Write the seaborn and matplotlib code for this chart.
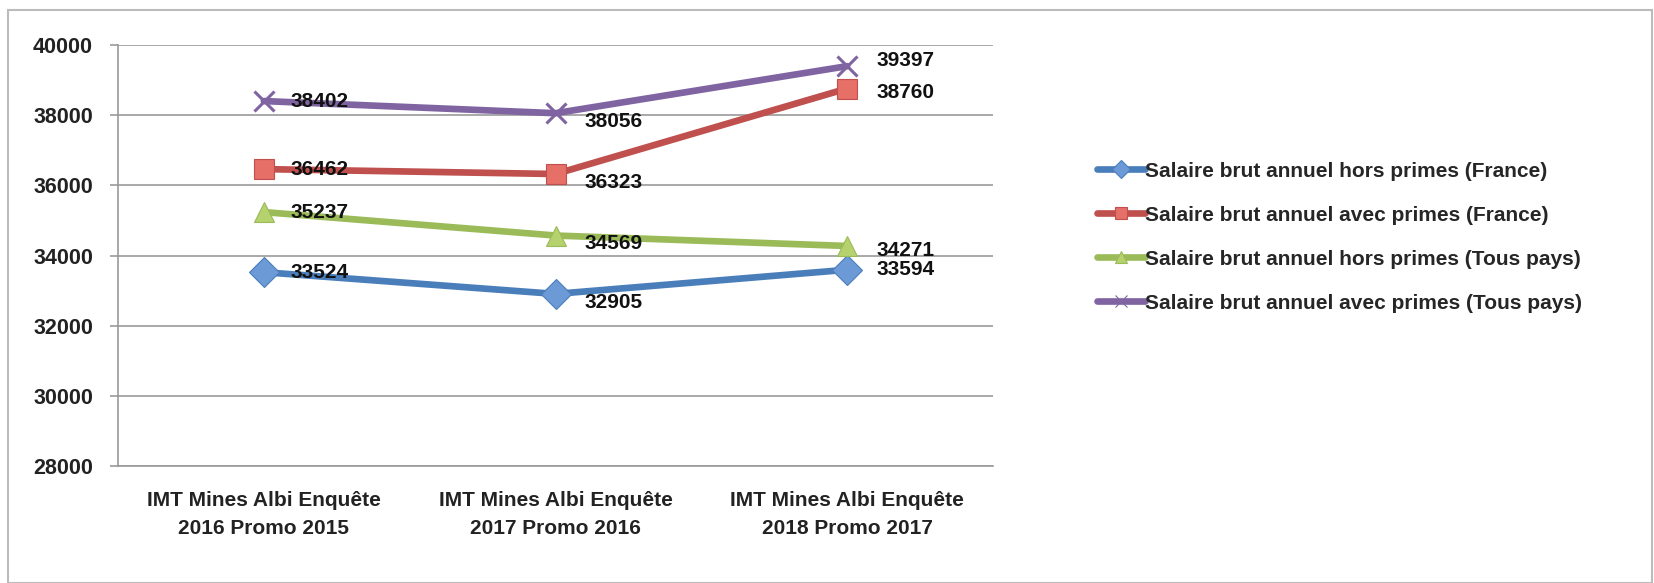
import pandas as pd
import matplotlib.pyplot as plt
import seaborn as sns
from matplotlib.patches import Rectangle

enquetes = ['IMT Mines Albi Enquête\n2016 Promo 2015',
            'IMT Mines Albi Enquête\n2017 Promo 2016',
            'IMT Mines Albi Enquête\n2018 Promo 2017']
series = ['Salaire brut annuel hors primes (France)',
          'Salaire brut annuel avec primes (France)',
          'Salaire brut annuel hors primes (Tous pays)',
          'Salaire brut annuel avec primes (Tous pays)']
hors_france = [33524, 32905, 33594]
avec_france = [36462, 36323, 38760]
hors_tous = [35237, 34569, 34271]
avec_tous = [38402, 38056, 39397]
yticks = [28000, 30000, 32000, 34000, 36000, 38000, 40000]

colors = ['#4A7EBB', '#C0504D', '#9BBB59', '#8064A2']
markers = ['D', 's', '^', 'X']

rows = []
for name, vals in zip(series, [hors_france, avec_france, hors_tous, avec_tous]):
    for e, v in zip(enquetes, vals):
        rows.append({'enquete': e, 'salaire': v, 'serie': name})
df = pd.DataFrame(rows)

sns.set_style('white')
plt.rcParams['font.family'] = ['Liberation Sans', 'DejaVu Sans']
plt.rcParams['font.weight'] = 'bold'
fs = 15

fig = plt.figure(figsize=(16.54, 5.83), dpi=100)
ax = fig.add_axes([118 / 1654, 1 - 466 / 583, (993 - 118) / 1654, (466 - 45) / 583])

sns.lineplot(data=df, x='enquete', y='salaire', hue='serie', style='serie',
             palette=colors, markers=markers, dashes=False, linewidth=4.8,
             markersize=15, markeredgewidth=0.8, ax=ax, sort=False)

fills = ['#6C9AD6', '#E66F68', '#B5D26E', '#8064A2']
for line, c, f in zip(ax.get_lines(), colors, fills):
    line.set_markeredgecolor(c)
    line.set_markerfacecolor(f)
xl = ax.get_lines()[3]
xl.set_marker('x')
xl.set_markeredgewidth(2.2)

# data labels
offsets = {0: (0.09, 0), 1: (0.10, -6), 2: (0.10, 0)}
label_dy = {(2, 3): 4, (2, 1): -3, (2, 2): -3, (2, 0): 0}
for si, vals in enumerate([hors_france, avec_france, hors_tous, avec_tous]):
    for i, v in enumerate(vals):
        dx, dy = offsets[i]
        dy = label_dy.get((i, si), dy)
        ax.annotate(str(v), (i + dx, v), xytext=(0, dy), textcoords='offset points',
                    ha='left', va='center', fontsize=fs, fontweight='bold',
                    color='#111111')

ax.set_xlim(-0.5, 2.5)
ax.set_ylim(28000, 40000)
ax.set_yticks(yticks)
ax.set_yticklabels([str(t) for t in yticks], fontsize=15.5, fontweight='bold', color='#222222')
ax.set_xticks([0, 1, 2])
ax.set_xticklabels(enquetes, fontsize=fs, fontweight='bold', color='#222222', linespacing=1.6)
ax.set_xticks([-0.5, 0.5, 1.5, 2.5], minor=True)
ax.tick_params(axis='x', which='major', length=0, pad=18)
ax.tick_params(axis='x', which='minor', length=6, color='#999999', width=1.2)
ax.tick_params(axis='y', length=6, color='#999999', width=1.2, left=True, pad=12)
ax.yaxis.grid(True, color='#999999', linewidth=1.2)
ax.set_xlabel('')
ax.set_ylabel('')
for side in ['top', 'right']:
    ax.spines[side].set_visible(False)
for side in ['left', 'bottom']:
    ax.spines[side].set_color('#999999')
    ax.spines[side].set_linewidth(1.2)

leg = ax.legend(loc='upper left', bbox_to_anchor=(1078 / 1654, 1 - 143 / 583),
                bbox_transform=fig.transFigure, frameon=False, handlelength=2.3,
                handletextpad=0.0, labelspacing=1.2, markerscale=0.6,
                prop={'weight': 'bold', 'size': 15})
for h, c, f in zip(leg.legend_handles, colors, fills):
    h.set_linewidth(4.8)
    h.set_markeredgecolor(c)
    h.set_markerfacecolor(f)
leg.legend_handles[3].set_marker('x')

fig.patches.append(Rectangle((8 / 1654, 0), 1 - 8 / 1654 - 0.001, 1 - 10 / 583,
                             transform=fig.transFigure, fill=False,
                             edgecolor='#BBBBBB', linewidth=1.5))

fig.savefig('out.png', dpi=100)
